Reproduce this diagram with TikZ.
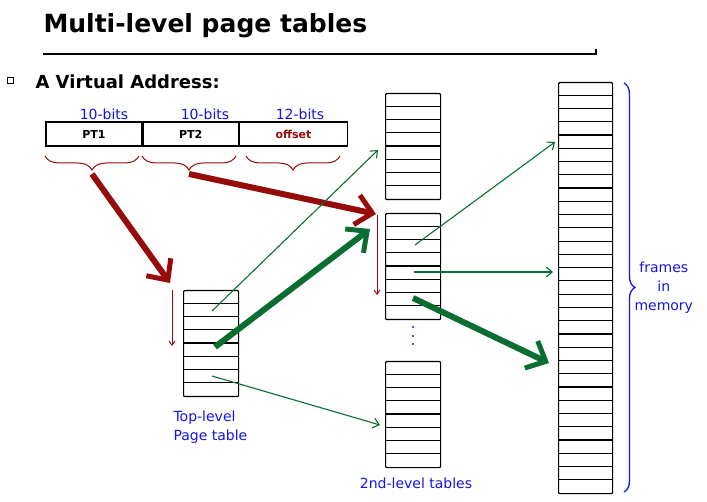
\documentclass[tikz,border=0pt]{standalone}
\usepackage{fontspec}
\setmainfont{DejaVu Sans}
\usetikzlibrary{arrows.meta,decorations.pathreplacing}
\definecolor{ptred}{RGB}{150,10,10}
\definecolor{ptgreen}{RGB}{10,110,50}
\definecolor{ptblue}{RGB}{20,20,230}
\tikzset{
  pagetab/.style={draw,line width=1.2pt,rounded corners=1pt,minimum width=55pt,inner sep=0pt},
  field/.style={draw,line width=1.2pt,minimum height=24pt,inner sep=0pt,font=\fontsize{11}{13}\selectfont\bfseries},
  bitslabel/.style={text=ptblue,font=\fontsize{14}{16}\selectfont},
  bluetext/.style={text=ptblue,font=\fontsize{14}{19}\selectfont},
  bigred/.style={ptred,line width=6pt,-{Straight Barb[length=16pt,width=30pt,line width=5pt]}},
  bigtgreen/.style={ptgreen,line width=6pt,-{Straight Barb[length=16pt,width=30pt,line width=5pt]}},
  thingreen/.style={ptgreen,line width=1.1pt,-{Straight Barb[length=6pt,width=10pt]}},
  thinred/.style={ptred,line width=1pt,-{Straight Barb[length=4pt,width=6pt]}},
  fieldbrace/.style={ptred,line width=1pt,decorate,decoration={brace,mirror,amplitude=14pt}}
}
\begin{document}
\begin{tikzpicture}[x=1pt,y=-1pt]
  \useasboundingbox (0,0) rectangle (707,502);

  % title
  \node[anchor=base west,font=\fontsize{25}{30}\selectfont\bfseries] (title) at (40,33) {Multi-level page tables};
  \draw[line width=1.2pt] (43,54) -- (596,54) -- (596,49);

  % virtual address
  \node[draw,line width=0.8pt,minimum size=6pt,inner sep=0pt] (bullet) at (10,80) {};
  \node[anchor=base west,font=\fontsize{18}{22}\selectfont\bfseries] (va) at (32,89) {A Virtual Address:};

  \node[field,minimum width=96pt] (pt1) at (94,134) {PT1};
  \node[field,minimum width=95pt,anchor=west] (pt2) at (pt1.east) {PT2};
  \node[field,minimum width=108pt,anchor=west,text=ptred] (off) at (pt2.east) {offset};

  \node[bitslabel] (b1) at (104,114) {10-bits};
  \node[bitslabel] (b2) at (205,114) {10-bits};
  \node[bitslabel] (b3) at (300,114) {12-bits};

  \draw[fieldbrace] (45,156) -- coordinate[pos=0.5] (br1) (139,156);
  \draw[fieldbrace] (142,156) -- coordinate[pos=0.5] (br2) (236,156);
  \draw[fieldbrace] (246,156) -- (340,156);
  \coordinate (br1tip) at ([yshift=-18]br1);
  \coordinate (br2tip) at ([yshift=-18]br2);

  % top-level table
  \node[pagetab,minimum height=106pt,anchor=north west] (top) at (183,290) {};
  \foreach \r in {1,...,7}
    \draw[line width=1.2pt] ([yshift=-13.25*\r]top.north west) -- ([yshift=-13.25*\r]top.north east);
  \node[bluetext,anchor=north west,align=left] (toplbl) at (170,407) {Top-level\\Page table};

  % second-level tables
  \foreach \name/\y in {secA/93,secB/213,secC/361}{
    \node[pagetab,minimum height=106pt,anchor=north west] (\name) at (385,\y) {};
    \foreach \r in {1,...,7}
      \draw[line width=1.2pt] ([yshift=-13.25*\r]\name.north west) -- ([yshift=-13.25*\r]\name.north east);
  }
  \foreach \y in {327,336,344}
    \fill[ptblue] (413,\y) circle (1.2pt);
  \node[bluetext,anchor=base] (seclbl) at (416,488) {2nd-level tables};

  % frames in memory
  \node[pagetab,minimum width=54pt,minimum height=411pt,anchor=north west] (mem) at (558,82) {};
  \foreach \r in {1,...,30}
    \draw[line width=1.2pt] ([yshift=-13.26*\r]mem.north west) -- ([yshift=-13.26*\r]mem.north east);
  \draw[ptblue,line width=1.3pt,decorate,decoration={brace,amplitude=11pt}]
    (624,83) -- coordinate[pos=0.5] (membr) (624,492);
  \node[bluetext,align=center,anchor=west] (memlbl) at ([xshift=7]membr) {frames\\in\\memory};

  % index arrows
  \coordinate (t2) at (212,311);
  \coordinate (t5) at (215,347);
  \coordinate (t7) at (212,376);
  \coordinate (s4) at (415,245);
  \coordinate (s6) at (414,272);
  \coordinate (s8) at (413,298);
  \coordinate (aend) at (378,150);
  \coordinate (bend) at (370,229);
  \coordinate (cend) at (380,425);
  \coordinate (m1) at (555,142);
  \coordinate (m2) at (553,272);
  \coordinate (m3) at (549,363);

  \draw[thinred] (172,290) -- (172,346);
  \draw[thinred] (377,215) -- (377,295);

  \draw[bigred] (br1tip) -- (170,283);
  \draw[bigred] (br2tip) -- (376,214);

  \draw[thingreen] (t2) -- (aend);
  \draw[bigtgreen] (t5) -- (bend);
  \draw[thingreen] (t7) -- (cend);
  \draw[thingreen] (s4) -- (m1);
  \draw[thingreen] (s6) -- (m2);
  \draw[bigtgreen] (s8) -- (m3);
\end{tikzpicture}
\end{document}
